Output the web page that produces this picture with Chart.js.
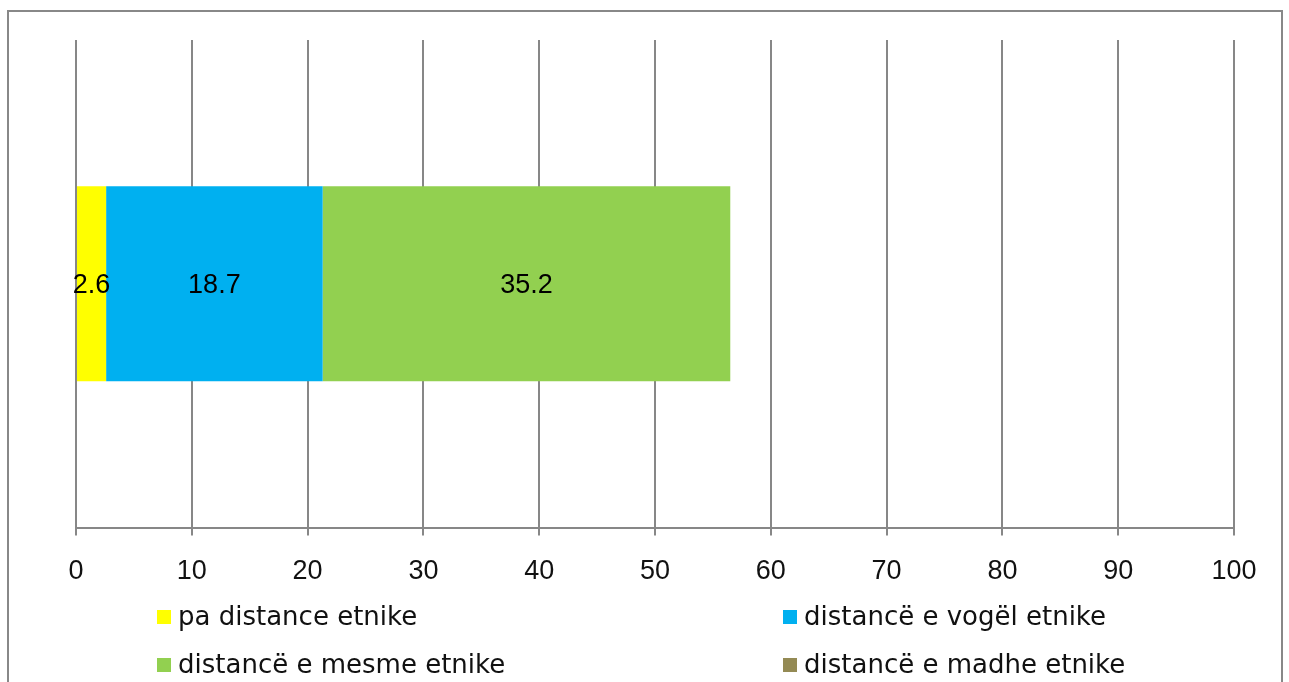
<!DOCTYPE html>
<html>
<head>
<meta charset="utf-8">
<script src="https://cdn.jsdelivr.net/npm/chart.js@4"></script>
<style>
  body { margin: 0; background: #fff; }
  #wrap { position: relative; width: 1289px; height: 682px; overflow: hidden; }
  #frame { position: absolute; left: 7px; top: 10px; width: 1272px; height: 720px; border: 2px solid #888; border-bottom: none; }
  #myChart { position: absolute; left: 0; top: 0; }
  .leg { position: absolute; font-family: "DejaVu Sans", sans-serif; font-size: 26px; color: #111; white-space: nowrap; line-height: 30px; }
  .leg i { display: inline-block; width: 14px; height: 14px; margin-right: 7px; vertical-align: 1px; }
</style>
</head>
<body>
<div id="wrap">
  <div id="frame"></div>
  <canvas id="myChart" width="1289" height="682"></canvas>
  <div id="legend"></div>
</div>
<script>
let categories = [''];
let seriesNames = ['pa distance etnike', 'distancë e vogël etnike', 'distancë e mesme etnike', 'distancë e madhe etnike'];
let seriesColors = ['#FFFF00', '#00B0F0', '#92D050', '#948A54'];
let paDistance = [2.6];
let eVogel = [18.7];
let eMesme = [35.2];
let eMadhe = [0];
let tickValues = [0, 10, 20, 30, 40, 50, 60, 70, 80, 90, 100];

let values = [paDistance, eVogel, eMesme, eMadhe];
let numFont = '"Liberation Sans", sans-serif';

// value labels in the middle of each segment
const barLabels = {
  id: 'barLabels',
  afterDatasetsDraw(chart) {
    const ctx = chart.ctx;
    ctx.save();
    ctx.font = '27px ' + numFont;
    ctx.fillStyle = '#000';
    ctx.textAlign = 'center';
    ctx.textBaseline = 'middle';
    chart.data.datasets.forEach((ds, i) => {
      chart.getDatasetMeta(i).data.forEach((bar, j) => {
        let v = ds.data[j];
        if (!v) return;
        let p = bar.getProps(['x', 'y', 'base'], true);
        ctx.fillText(v.toFixed(1), (p.x + p.base) / 2, p.y + 2);
      });
    });
    ctx.restore();
  }
};

const data = {
  labels: categories,
  datasets: seriesNames.map((n, i) => ({
    label: n,
    data: values[i],
    backgroundColor: seriesColors[i],
    borderWidth: 0,
    barPercentage: 0.4,
    categoryPercentage: 1
  }))
};

const config = {
  type: 'bar',
  data: data,
  options: {
    indexAxis: 'y',
    responsive: false,
    animation: false,
    layout: { padding: { left: 76, right: 55, top: 40, bottom: 74 } },
    plugins: {
      legend: { display: false },
      tooltip: { enabled: false }
    },
    scales: {
      x: {
        stacked: true,
        min: 0,
        max: 100,
        afterBuildTicks: axis => { axis.ticks = tickValues.map(v => ({ value: v })); },
        ticks: {
          color: '#111',
          padding: 20,
          font: { family: numFont, size: 27 }
        },
        grid: { color: '#878787', lineWidth: 2, tickLength: 8, drawTicks: true },
        border: { color: '#878787', width: 2 }
      },
      y: {
        stacked: true,
        display: false
      }
    }
  },
  plugins: [barLabels]
};

const myChart = new Chart(document.getElementById('myChart'), config);

// legend in two columns, like the original
let legPos = [[157, 601], [783, 601], [157, 649], [783, 649]];
let legend = document.getElementById('legend');
seriesNames.forEach((n, i) => {
  let d = document.createElement('div');
  d.className = 'leg';
  d.style.left = legPos[i][0] + 'px';
  d.style.top = legPos[i][1] + 'px';
  d.innerHTML = '<i style="background:' + seriesColors[i] + '"></i>' + n;
  legend.appendChild(d);
});
</script>
</body>
</html>
